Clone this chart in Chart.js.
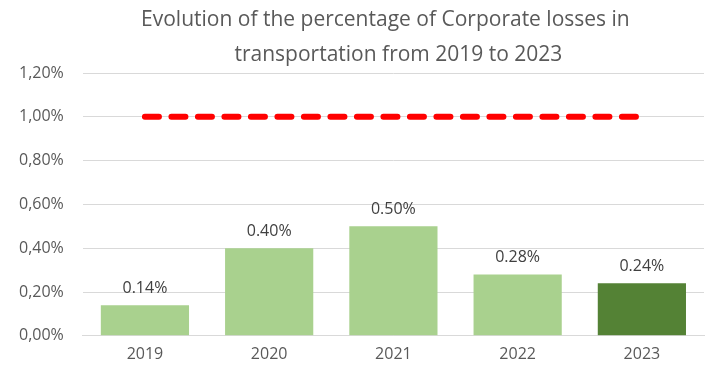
<!DOCTYPE html>
<html>
<head>
<meta charset="utf-8">
<script src="https://cdn.jsdelivr.net/npm/chart.js@4"></script>
<style>
  html, body { margin: 0; padding: 0; background: #fff; }
  #wrap { width: 709px; height: 368px; }
</style>
</head>
<body>
<div id="wrap"><canvas id="grafico" width="709" height="368"></canvas></div>
<script>
const anos = ["2019", "2020", "2021", "2022", "2023"];
const perdas = [0.14, 0.40, 0.50, 0.28, 0.24];
const coresBarras = ["#a9d18e", "#a9d18e", "#a9d18e", "#a9d18e", "#548235"];
const limite = [1.00, 1.00, 1.00, 1.00, 1.00];
const titulo = ["Evolution of the percentage of Corporate losses in", "transportation from 2019 to 2023"];

const fonte = "'Open Sans', sans-serif";

// rótulos em cima das barras e título centrado na área do gráfico
const extras = {
  id: "extras",
  afterDatasetsDraw(chart) {
    const ctx = chart.ctx;
    const meta = chart.getDatasetMeta(1);
    ctx.save();
    ctx.fillStyle = "#404040";
    ctx.font = "16px " + fonte;
    ctx.textAlign = "center";
    ctx.textBaseline = "bottom";
    meta.data.forEach((bar, i) => {
      ctx.fillText(perdas[i].toFixed(2) + "%", bar.x, bar.y - 9);
    });
    const area = chart.chartArea;
    const cx = (area.left + area.right) / 2;
    ctx.fillStyle = "#595959";
    ctx.font = "21px " + fonte;
    ctx.textBaseline = "middle";
    ctx.fillText(titulo[0], cx - 8, 20);
    ctx.fillText(titulo[1], cx + 5, 55);
    ctx.restore();
  }
};

new Chart(document.getElementById("grafico").getContext("2d"), {
  type: "bar",
  data: {
    labels: anos,
    datasets: [
      {
        type: "line",
        data: limite,
        borderColor: "#ff0000",
        borderWidth: 6,
        borderDash: [14, 12.5],
        borderCapStyle: "round",
        pointRadius: 0,
        fill: false,
        order: 0
      },
      {
        data: perdas,
        backgroundColor: coresBarras,
        barPercentage: 0.71,
        categoryPercentage: 1,
        order: 1
      }
    ]
  },
  options: {
    responsive: false,
    animation: false,
    layout: { padding: { top: 73, right: 5, left: 0, bottom: 3 } },
    plugins: {
      legend: { display: false },
      title: { display: false },
      tooltip: { enabled: false }
    },
    scales: {
      x: {
        grid: { display: false },
        border: { color: "#d9d9d9" },
        ticks: { color: "#595959", font: { family: fonte, size: 16 }, padding: 1 }
      },
      y: {
        min: 0,
        max: 1.2,
        grid: { color: "#d9d9d9", drawTicks: false },
        border: { display: false },
        ticks: {
          stepSize: 0.2,
          color: "#595959",
          font: { family: fonte, size: 16 },
          padding: 19,
          callback: v => v.toFixed(2).replace(".", ",") + "%"
        }
      }
    }
  },
  plugins: [extras]
});
</script>
</body>
</html>
